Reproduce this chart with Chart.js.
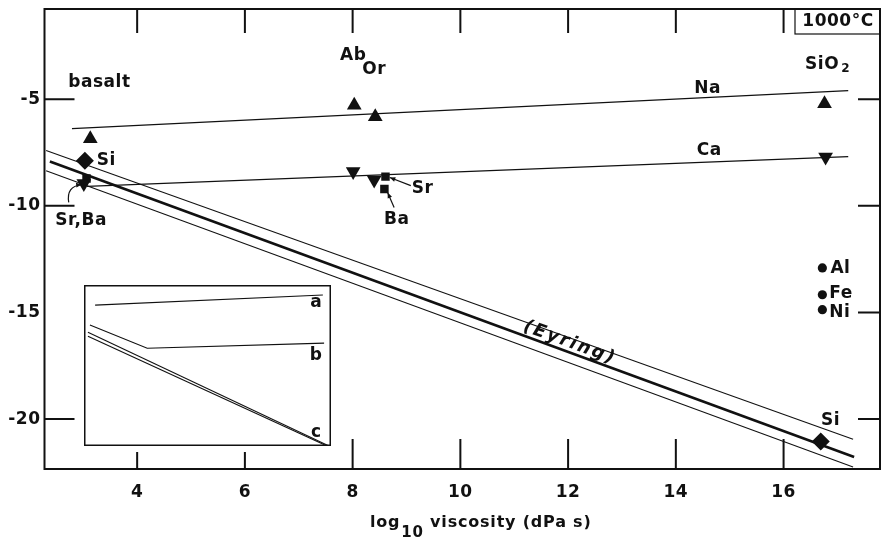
<!DOCTYPE html>
<html>
<head>
<meta charset="utf-8">
<script src="https://cdn.jsdelivr.net/npm/chart.js@4.4.1/dist/chart.umd.min.js"></script>
<style>
  html, body { margin: 0; padding: 0; background: #fff; }
  #wrap { position: relative; width: 889px; height: 542px; }
  #main { position: absolute; left: 0; top: 0; }
  #inset { position: absolute; left: 84px; top: 285px; }
</style>
</head>
<body>
<div id="wrap">
  <canvas id="main" width="889" height="542"></canvas>
  <canvas id="inset" width="247" height="161"></canvas>
</div>
<script>
// axis ranges, log10 viscosity vs log diffusivity
const X_MIN = 2.28, X_MAX = 17.79
const Y_MIN = -22.34, Y_MAX = -0.77

// Na (up triangles) and Ca (down triangles): basalt, Ab, Or, SiO2
const naPoints = [{ x: 3.13, y: -6.85 }, { x: 8.03, y: -5.28 }, { x: 8.42, y: -5.82 }, { x: 16.76, y: -5.21 }]
const caPoints = [{ x: 3.01, y: -8.95 }, { x: 8.01, y: -8.39 }, { x: 8.40, y: -8.79 }, { x: 16.78, y: -7.71 }]
// Si (diamonds)
const siPoints = [{ x: 3.03, y: -7.88 }, { x: 16.69, y: -21.05 }]
// Sr, Ba (squares)
const srBaPoints = [{ x: 3.06, y: -8.72 }, { x: 8.61, y: -8.63 }, { x: 8.59, y: -9.21 }]
// Al, Fe, Ni in SiO2 (dots)
const metalPoints = [{ x: 16.72, y: -12.91 }, { x: 16.72, y: -14.17 }, { x: 16.72, y: -14.87 }]

// trend lines
const naLine = [{ x: 2.79, y: -6.38 }, { x: 17.20, y: -4.60 }]
const caLine = [{ x: 3.07, y: -9.09 }, { x: 17.20, y: -7.69 }]
const eyringLine = [{ x: 2.38, y: -7.92 }, { x: 17.31, y: -21.78 }]
const eyringUpper = [{ x: 2.31, y: -7.41 }, { x: 17.29, y: -20.94 }]
const eyringLower = [{ x: 2.31, y: -8.35 }, { x: 17.29, y: -22.25 }]

// text labels (data coords of the text centre / left edge)
const labels = [
  { text: "basalt", x: 3.30, y: -4.23 },
  { text: "Ab", x: 8.01, y: -2.95 },
  { text: "Or", x: 8.40, y: -3.60 },
  { text: "SiO", sub: "2", x: 16.40, y: -3.36, align: "left" },
  { text: "Na", x: 14.59, y: -4.49 },
  { text: "Ca", x: 14.62, y: -7.43 },
  { text: "Si", x: 3.25, y: -7.88, align: "left" },
  { text: "Sr,Ba", x: 2.96, y: -10.69 },
  { text: "Sr", x: 9.30, y: -9.19 },
  { text: "Ba", x: 8.82, y: -10.66 },
  { text: "Al", x: 16.87, y: -12.93, align: "left" },
  { text: "Fe", x: 16.85, y: -14.10, align: "left" },
  { text: "Ni", x: 16.85, y: -14.99, align: "left" },
  { text: "Si", x: 16.87, y: -20.05 }
]
const eyringLabel = { text: "(Eyring)", x: 12.03, y: -16.42 }

// pointer arrows [from, to]
const arrows = [
  [{ x: 9.08, y: -9.05 }, { x: 8.69, y: -8.67 }],
  [{ x: 8.77, y: -10.08 }, { x: 8.65, y: -9.38 }]
]
const curvedArrow = [{ x: 2.73, y: -9.84 }, { x: 2.68, y: -9.09 }, { x: 2.97, y: -9.0 }]

// inset sketch, arbitrary 0-100 units
const insetA = [{ x: 4.5, y: 87.5 }, { x: 96.7, y: 93.8 }]
const insetB = [{ x: 2.4, y: 75.1 }, { x: 25.6, y: 60.7 }, { x: 97.2, y: 63.9 }]
const insetC1 = [{ x: 1.6, y: 70.7 }, { x: 99.2, y: 0 }]
const insetC2 = [{ x: 1.6, y: 68.2 }, { x: 98.4, y: 0 }]
const insetLabels = [{ text: "a", x: 93.9, y: 88.8 }, { text: "b", x: 93.9, y: 56.4 }, { text: "c", x: 93.9, y: 8.4 }]

const INK = "#111"
const FONT = "bold 17px 'DejaVu Sans'"

const markerSet = (data, style, radius, rotation = 0) => ({
  data, pointStyle: style, pointRadius: radius, rotation,
  backgroundColor: INK, borderColor: INK, borderWidth: 0, showLine: false
})
const lineSet = (data, width) => ({
  data, showLine: true, borderColor: INK, borderWidth: width, pointRadius: 0, fill: false
})

function arrowHead(ctx, from, to) {
  const ang = Math.atan2(to.y - from.y, to.x - from.x)
  ctx.beginPath()
  ctx.moveTo(to.x, to.y)
  ctx.lineTo(to.x - 6 * Math.cos(ang - 0.4), to.y - 6 * Math.sin(ang - 0.4))
  ctx.lineTo(to.x - 6 * Math.cos(ang + 0.4), to.y - 6 * Math.sin(ang + 0.4))
  ctx.closePath()
  ctx.fill()
}

const decorations = {
  id: "decorations",
  beforeDraw(chart) {
    chart.ctx.letterSpacing = "0.5px"
  },
  afterDatasetsDraw(chart) {
    const { ctx, chartArea: a, scales: { x, y } } = chart
    const px = v => x.getPixelForValue(v)
    const py = v => y.getPixelForValue(v)
    ctx.save()
    ctx.strokeStyle = INK
    ctx.fillStyle = INK

    // frame + inward ticks
    ctx.lineWidth = 2
    ctx.strokeRect(a.left, a.top, a.right - a.left, a.bottom - a.top)
    ctx.beginPath()
    x.ticks.forEach(t => {
      const p = px(t.value)
      const len = t.value < 7 ? 17 : 30 // the two under the inset are short
      ctx.moveTo(p, a.bottom); ctx.lineTo(p, a.bottom - len)
      ctx.moveTo(p, a.top); ctx.lineTo(p, a.top + 24)
    })
    y.ticks.forEach(t => {
      const p = py(t.value)
      if (t.value !== -15) { ctx.moveTo(a.left, p); ctx.lineTo(a.left + 30, p) }
      ctx.moveTo(a.right, p); ctx.lineTo(a.right - 22, p)
    })
    ctx.stroke()

    // arrows
    ctx.lineWidth = 1.2
    arrows.forEach(([f, t]) => {
      const P = { x: px(f.x), y: py(f.y) }, Q = { x: px(t.x), y: py(t.y) }
      ctx.beginPath(); ctx.moveTo(P.x, P.y); ctx.lineTo(Q.x, Q.y); ctx.stroke()
      arrowHead(ctx, P, Q)
    })
    const [c0, c1, c2] = curvedArrow.map(p => ({ x: px(p.x), y: py(p.y) }))
    ctx.beginPath(); ctx.moveTo(c0.x, c0.y); ctx.quadraticCurveTo(c1.x, c1.y, c2.x, c2.y); ctx.stroke()
    arrowHead(ctx, c1, c2)

    // labels
    ctx.letterSpacing = "0.5px"
    ctx.textBaseline = "middle"
    labels.forEach(l => {
      ctx.textAlign = l.align || "center"
      ctx.font = FONT
      ctx.fillText(l.text, px(l.x), py(l.y))
      if (l.sub) {
        const w = ctx.measureText(l.text).width
        ctx.font = "bold 12px 'DejaVu Sans'"
        ctx.textAlign = "left"
        ctx.fillText(l.sub, px(l.x) + w + 2, py(l.y) + 5)
      }
    })

    ctx.save()
    ctx.translate(px(eyringLabel.x), py(eyringLabel.y))
    ctx.rotate(Math.atan2(py(eyringLine[1].y) - py(eyringLine[0].y), px(eyringLine[1].x) - px(eyringLine[0].x)))
    ctx.font = "italic bold 18px 'DejaVu Sans'"
    ctx.letterSpacing = "2px"
    ctx.textAlign = "center"
    ctx.fillText(eyringLabel.text, 0, 0)
    ctx.restore()

    // temperature box
    ctx.lineWidth = 1.2
    ctx.strokeRect(a.right - 85, a.top, 85, 25)
    ctx.font = FONT
    ctx.textAlign = "center"
    ctx.fillText("1000°C", a.right - 42, a.top + 13)

    // axis title with subscript
    const main1 = "log", sub = "10", main2 = " viscosity (dPa s)"
    ctx.letterSpacing = "0.8px"
    ctx.font = "bold 16px 'DejaVu Sans'"
    const w1 = ctx.measureText(main1).width, w3 = ctx.measureText(main2).width
    ctx.font = "bold 15px 'DejaVu Sans'"
    const w2 = ctx.measureText(sub).width
    let sx = (a.left + a.right) / 2 + 18 - (w1 + w2 + w3) / 2
    ctx.textAlign = "left"
    ctx.textBaseline = "alphabetic"
    ctx.font = "bold 16px 'DejaVu Sans'"
    ctx.fillText(main1, sx, 527)
    ctx.font = "bold 15px 'DejaVu Sans'"
    ctx.fillText(sub, sx + w1 + 1, 537)
    ctx.font = "bold 16px 'DejaVu Sans'"
    ctx.fillText(main2, sx + w1 + w2 + 1, 527)
    ctx.restore()
  }
}

const tickFont = { family: "DejaVu Sans", size: 17, weight: "bold" }

new Chart(document.getElementById("main"), {
  type: "scatter",
  data: {
    datasets: [
      lineSet(naLine, 1.2),
      lineSet(caLine, 1.2),
      lineSet(eyringLine, 2.6),
      lineSet(eyringUpper, 1.1),
      lineSet(eyringLower, 1.1),
      markerSet(naPoints, "triangle", 8.5),
      markerSet(caPoints, "triangle", 8.5, 180),
      markerSet(siPoints, "rectRot", 9),
      markerSet(srBaPoints, "rect", 6),
      markerSet(metalPoints, "circle", 4.6)
    ]
  },
  options: {
    responsive: false,
    animation: false,
    layout: { padding: { top: 8, right: 4, left: 0, bottom: 0 } },
    plugins: { legend: { display: false }, tooltip: { enabled: false } },
    scales: {
      x: {
        type: "linear", min: X_MIN, max: X_MAX,
        grid: { display: false, drawTicks: false }, border: { display: false },
        ticks: { stepSize: 2, includeBounds: false, padding: 13, color: INK, font: tickFont },
        afterFit: s => { s.height = 73; s.paddingLeft = 0; s.paddingRight = 0 }
      },
      y: {
        type: "linear", min: Y_MIN, max: Y_MAX,
        grid: { display: false, drawTicks: false }, border: { display: false },
        ticks: { stepSize: 5, includeBounds: false, padding: 4, color: INK, font: tickFont },
        afterFit: s => { s.width = 44.5; s.paddingTop = 0; s.paddingBottom = 0 }
      }
    }
  },
  plugins: [decorations]
})

const insetDecor = {
  id: "insetDecor",
  beforeDraw(chart) {
    const { ctx, width, height } = chart
    ctx.save(); ctx.fillStyle = "#fff"; ctx.fillRect(0, 0, width, height); ctx.restore()
  },
  afterDatasetsDraw(chart) {
    const { ctx, width, height, scales: { x, y } } = chart
    ctx.save()
    ctx.strokeStyle = INK
    ctx.lineWidth = 1.5
    ctx.strokeRect(0.75, 0.75, width - 1.5, height - 1.5)
    ctx.fillStyle = INK
    ctx.font = FONT
    ctx.textAlign = "center"
    ctx.textBaseline = "middle"
    insetLabels.forEach(l => ctx.fillText(l.text, x.getPixelForValue(l.x), y.getPixelForValue(l.y)))
    ctx.restore()
  }
}

new Chart(document.getElementById("inset"), {
  type: "scatter",
  data: { datasets: [insetA, insetB, insetC1, insetC2].map(d => lineSet(d, 1.1)) },
  options: {
    responsive: false,
    animation: false,
    layout: { padding: 0 },
    plugins: { legend: { display: false }, tooltip: { enabled: false } },
    scales: {
      x: { type: "linear", min: 0, max: 100, display: false },
      y: { type: "linear", min: 0, max: 100, display: false }
    }
  },
  plugins: [insetDecor]
})
</script>
</body>
</html>
